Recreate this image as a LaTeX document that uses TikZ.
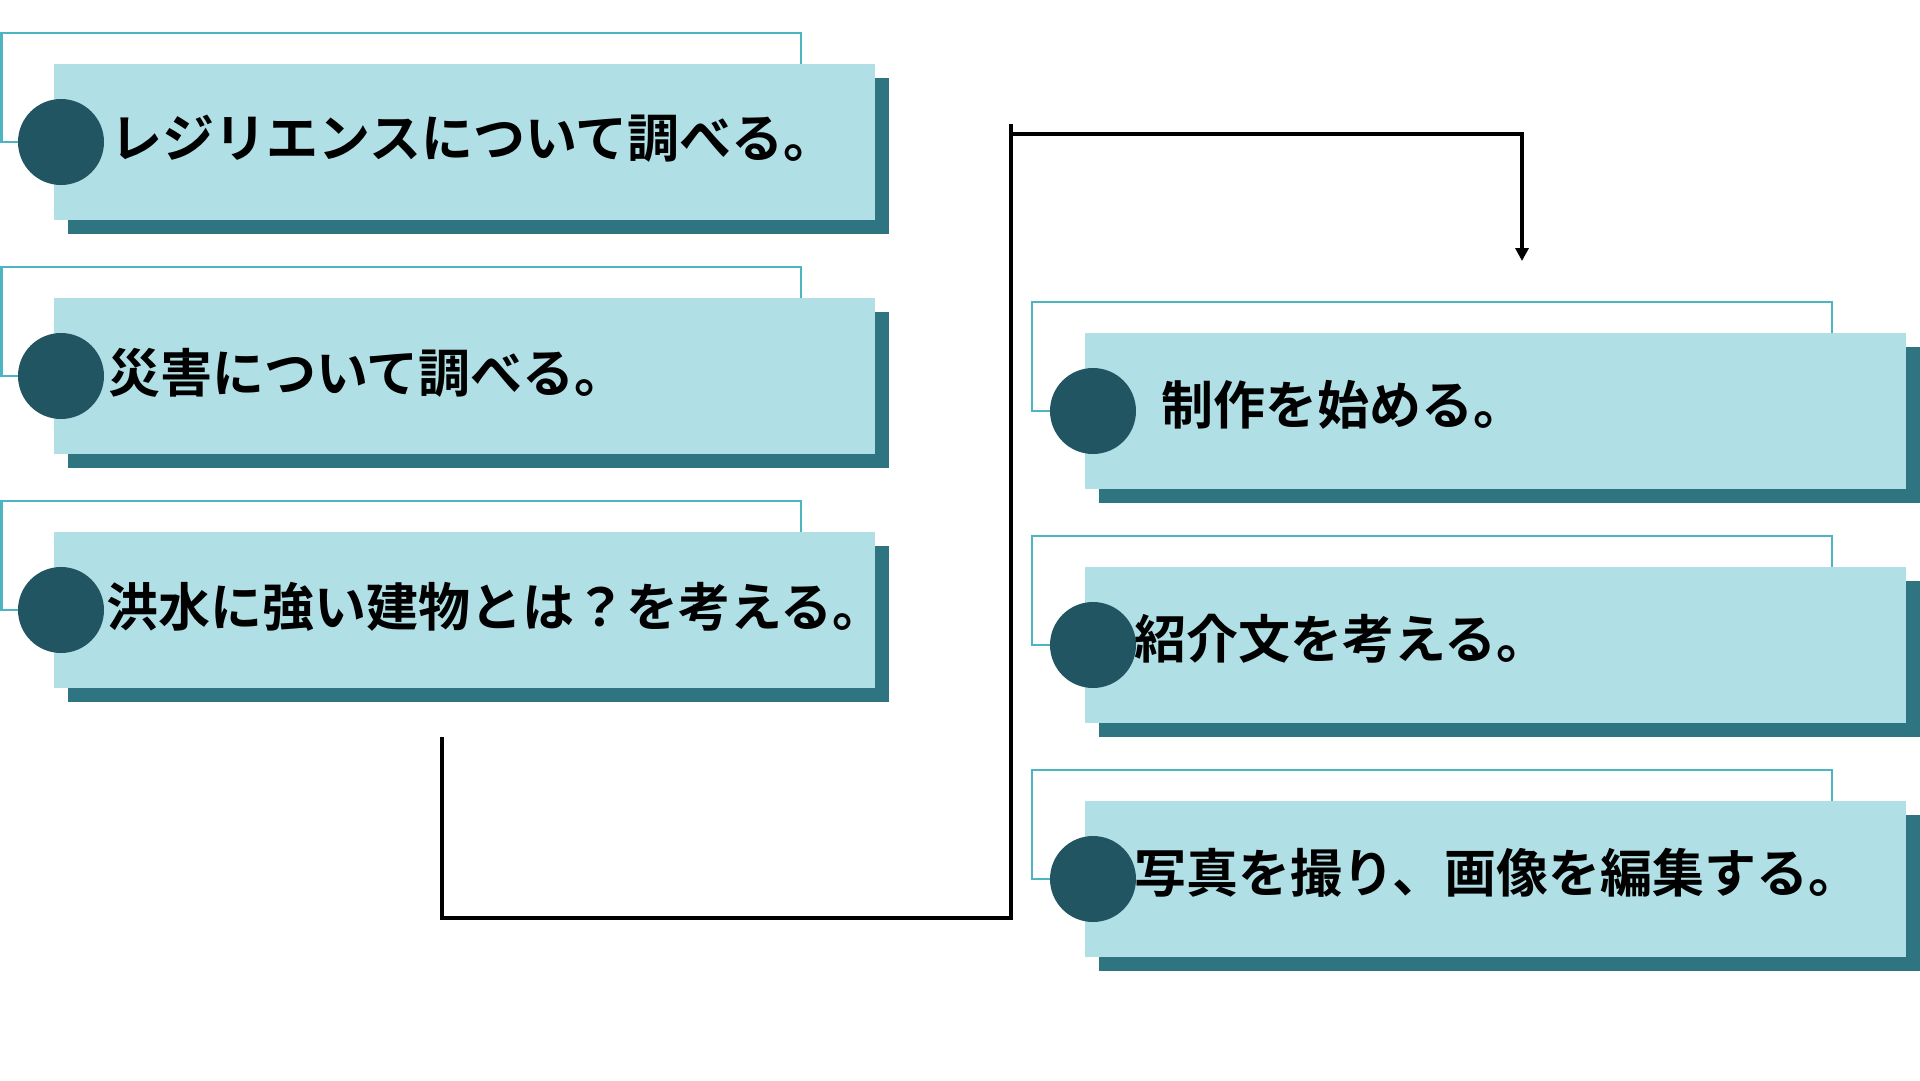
\documentclass[tikz,border=0pt]{standalone}
\usepackage{fontspec}
\newfontfamily\jpfont{Noto Sans CJK JP}[BoldFont={Noto Sans CJK JP Bold}]
\usetikzlibrary{arrows.meta}
\definecolor{cardc}{HTML}{B0E0E6}
\definecolor{shadc}{HTML}{2E7581}
\definecolor{dotc}{HTML}{225562}
\definecolor{outc}{HTML}{4DB5C2}
\tikzset{
  outl/.style={draw=outc, line width=2.5pt},
  shad/.style={fill=shadc, draw=none, minimum width=821pt, minimum height=156pt, inner sep=0pt, anchor=north west},
  card/.style={fill=cardc, draw=none, minimum width=821pt, minimum height=156pt, inner sep=0pt, anchor=north west},
  dot/.style={circle, fill=dotc, draw=none, minimum size=86pt, inner sep=0pt},
  lbl/.style={font=\jpfont\bfseries\fontsize{52}{60}\selectfont, anchor=west, inner sep=0pt, text=black},
  conn/.style={line width=3.5pt, draw=black}
}
\begin{document}
\begin{tikzpicture}[x=1pt,y=-1pt]
\useasboundingbox (0,0) rectangle (1920,1080);
\clip (0,0) rectangle (1920,1080);
% left column
\foreach \k/\tx/\dx in {0/{レジリエンスについて調べる。}/110, 1/{災害について調べる。}/108, 2/{洪水に強い建物とは？を考える。}/106}{
  \pgfmathsetmacro{\oy}{234*\k}
  \draw[outl] (1.5,33+\oy) rectangle (801,142+\oy);
  \node[shad] (ls\k) at (68,78+\oy) {};
  \node[card] (lc\k) at (54,64+\oy) {};
  \node[dot] (ld\k) at (61,142+\oy) {};
  \node[lbl] (lt\k) at (\dx,139+\oy) {\tx};
}
% right column
\foreach \k/\tx/\dx in {0/{制作を始める。}/1161, 1/{紹介文を考える。}/1134, 2/{写真を撮り、画像を編集する。}/1134}{
  \pgfmathsetmacro{\oy}{234*\k}
  \draw[outl] (1032,302+\oy) rectangle (1832,411+\oy);
  \node[shad] (rs\k) at (1099,347+\oy) {};
  \node[card] (rc\k) at (1085,333+\oy) {};
  \node[dot] (rd\k) at (1093,411+\oy) {};
  \node[lbl] (rt\k) at (\dx,405+\oy) {\tx};
}
% connector
\coordinate (c1) at (442,737);
\coordinate (c2) at (442,918);
\coordinate (c3) at (1011,918);
\coordinate (c4) at (1011,124);
\coordinate (c5) at (1011,134);
\coordinate (c6) at (1522,134);
\coordinate (c7) at (1522,261);
\draw[conn] (c1) -- (c2) -- (c3) -- (c4);
\draw[conn, -{Triangle[length=13pt,width=13pt]}] (c5) -- (c6) -- (c7);
\end{tikzpicture}
\end{document}
